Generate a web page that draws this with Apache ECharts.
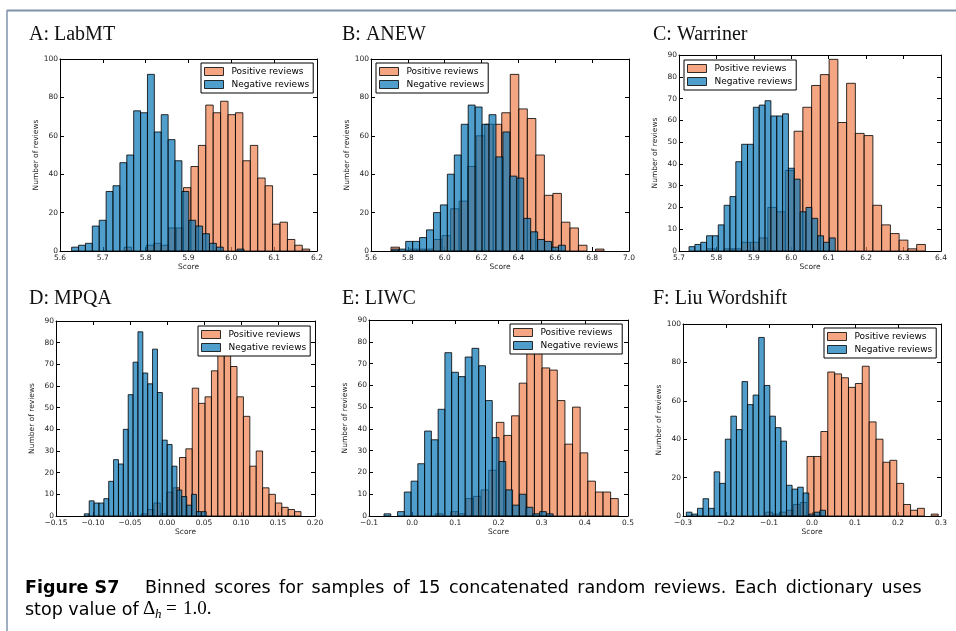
<!DOCTYPE html>
<html><head><meta charset="utf-8">
<script src="https://cdn.jsdelivr.net/npm/echarts@6/dist/echarts.min.js"></script>
<style>html,body{margin:0;padding:0;background:#fff}#c{width:956px;height:631px}</style>
</head><body><div id="c"></div>
<script>
// ---------------- DATA ----------------
const panelTitles = ['A: LabMT', 'B: ANEW', 'C: Warriner', 'D: MPQA', 'E: LIWC', 'F: Liu Wordshift'];
const seriesNames = ['Positive reviews', 'Negative reviews'];
const xLabelName = 'Score';
const yLabelName = 'Number of reviews';

// axis ranges / tick steps
const xMins = [5.6, 5.6, 5.7, -0.15, -0.1, -0.3];
const xMaxs = [6.2, 7.0, 6.4, 0.20, 0.5, 0.3];
const xSteps = [0.1, 0.2, 0.1, 0.05, 0.1, 0.1];
const xDecimals = [1, 1, 1, 2, 1, 1];
const yMaxs = [100, 100, 90, 90, 90, 100];
const ySteps = [20, 20, 10, 10, 10, 20];

// histogram bins: first bin edge, bin width, counts
const labmtPosStart = 5.7497, labmtPosWidth = 0.01733;
const labmtPos = [2, 0, 0, 3, 4, 3, 12, 12, 33, 44, 55, 76, 72, 78, 71, 72, 47, 55, 38, 34, 14, 15, 6, 3, 1];
const labmtNegStart = 5.6272, labmtNegWidth = 0.01609;
const labmtNeg = [2, 3, 4, 13, 16, 31, 34, 46, 50, 73, 72, 92, 62, 71, 58, 47, 31, 16, 13, 9, 4, 2, 0, 0, 1];

const anewPosStart = 5.7084, anewPosWidth = 0.04624;
const anewPos = [2, 0, 1, 1, 1, 6, 8, 22, 26, 44, 60, 66, 66, 72, 92, 74, 69, 50, 29, 30, 15, 12, 3, 0, 1];
const anewNegStart = 5.7129, anewNegWidth = 0.03768;
const anewNeg = [1, 1, 5, 5, 7, 11, 20, 24, 40, 50, 66, 76, 75, 66, 71, 49, 62, 39, 38, 17, 10, 6, 5, 2, 3];

const warrPosStart = 5.7736, warrPosWidth = 0.02339;
const warrPos = [1, 0, 1, 1, 4, 4, 6, 20, 18, 37, 55, 66, 76, 81, 88, 59, 77, 54, 53, 21, 12, 8, 5, 1, 3];
const warrNegStart = 5.7268, warrNegWidth = 0.015625;
const warrNeg = [2, 3, 4, 7, 7, 12, 21, 25, 41, 49, 49, 66, 67, 69, 62, 62, 63, 38, 33, 18, 20, 15, 7, 4, 6];

const mpqaPosStart = -0.035, mpqaPosWidth = 0.008642;
const mpqaPos = [1, 3, 6, 1, 11, 13, 27, 31, 59, 52, 55, 67, 76, 78, 69, 55, 46, 23, 30, 13, 10, 6, 4, 3, 2];
const mpqaNegStart = -0.1117, mpqaNegWidth = 0.006586;
const mpqaNeg = [1, 7, 6, 6, 8, 16, 26, 24, 40, 56, 71, 85, 66, 61, 77, 57, 35, 33, 23, 12, 9, 5, 10, 2, 2];

const liwcPosStart = 0.05367, liwcPosWidth = 0.01766;
const liwcPos = [1, 0, 2, 1, 8, 9, 12, 21, 43, 37, 46, 61, 78, 80, 68, 67, 53, 33, 50, 29, 16, 11, 11, 8];
const liwcNegStart = -0.06525, liwcNegWidth = 0.015676;
const liwcNeg = [1, 0, 2, 11, 16, 24, 39, 35, 49, 75, 66, 64, 73, 77, 69, 53, 36, 25, 12, 5, 10, 4, 1, 2, 1];

const liuPosStart = -0.10775, liuPosWidth = 0.016047;
const liuPos = [2, 1, 2, 3, 6, 7, 31, 31, 44, 75, 74, 72, 67, 69, 78, 49, 40, 28, 29, 17, 6, 3, 4, 0, 1];
const liuNegStart = -0.29225, liuNegWidth = 0.012946;
const liuNeg = [2, 1, 4, 9, 4, 23, 17, 40, 52, 45, 70, 58, 63, 93, 68, 52, 46, 39, 16, 14, 15, 12, 1, 2, 3];

const captionBold = 'Figure S7';
const captionLine1 = 'Binned scores for samples of 15 concatenated random reviews. Each dictionary uses';
const captionLine2 = 'stop value of';
const captionDelta = '\u0394';
const captionSub = 'h';
const captionEq = '=';
const captionValue = '1.0.';

// ---------------- LAYOUT / STYLE ----------------
const panelBins = [
  [[labmtPosStart, labmtPosWidth, labmtPos], [labmtNegStart, labmtNegWidth, labmtNeg]],
  [[anewPosStart, anewPosWidth, anewPos], [anewNegStart, anewNegWidth, anewNeg]],
  [[warrPosStart, warrPosWidth, warrPos], [warrNegStart, warrNegWidth, warrNeg]],
  [[mpqaPosStart, mpqaPosWidth, mpqaPos], [mpqaNegStart, mpqaNegWidth, mpqaNeg]],
  [[liwcPosStart, liwcPosWidth, liwcPos], [liwcNegStart, liwcNegWidth, liwcNeg]],
  [[liuPosStart, liuPosWidth, liuPos], [liuNegStart, liuNegWidth, liuNeg]]
];
const grids = [
  {left: 60, top: 59, width: 257, height: 192},
  {left: 371, top: 59, width: 258, height: 192},
  {left: 679, top: 55, width: 262, height: 196},
  {left: 56, top: 321, width: 259, height: 195},
  {left: 369, top: 320, width: 259, height: 196},
  {left: 683, top: 324, width: 258, height: 192}
];
const legendPos = [[201, 63], [376, 63], [684, 60], [198, 326], [510, 324], [824, 328]];
const titlePos = [[29, 35], [342, 35], [653, 35], [29, 298.5], [342, 298.5], [653, 298.5]];
const fills = ['rgba(239,128,79,0.7)', 'rgba(5,117,181,0.7)'];
const edge = 'rgba(0,0,0,0.8)';
const tickFont = 'DejaVu Sans';

function fmt(v, d) {
  let s = Number(v).toFixed(d);
  if (Math.abs(v) < 1e-9) s = (0).toFixed(d);
  return s.replace('-', '\u2212');
}

function renderBins(fill) {
  return function (params, api) {
    const c = api.value(2);
    if (!c) return null;
    const a = api.coord([api.value(0), c]);
    const b = api.coord([api.value(1), 0]);
    return {
      type: 'rect',
      shape: {x: a[0], y: a[1], width: b[0] - a[0], height: b[1] - a[1]},
      style: {fill: fill, stroke: edge, lineWidth: 1}
    };
  };
}

const xAxis = [], yAxis = [], series = [], legend = [], graphic = [];
grids.forEach((g, i) => {
  const lblStyle = {fontFamily: tickFont, fontSize: 7.5, color: '#222'};
  const line = {show: true, onZero: false, lineStyle: {color: '#000', width: 1}};
  const tick = {show: true, inside: true, length: 4, lineStyle: {color: '#000', width: 1}};
  xAxis.push({
    gridIndex: i, type: 'value', position: 'bottom', min: xMins[i], max: xMaxs[i], interval: xSteps[i],
    axisLine: line, axisTick: tick, splitLine: {show: false},
    axisLabel: Object.assign({margin: 3, formatter: v => fmt(v, xDecimals[i])}, lblStyle),
    name: xLabelName, nameLocation: 'middle', nameGap: 12,
    nameTextStyle: {fontFamily: tickFont, fontSize: 7.5, color: '#222'}
  });
  xAxis.push({
    gridIndex: i, type: 'value', position: 'top', min: xMins[i], max: xMaxs[i], interval: xSteps[i],
    axisLine: line, axisTick: tick, splitLine: {show: false}, axisLabel: {show: false}
  });
  yAxis.push({
    gridIndex: i, type: 'value', position: 'left', min: 0, max: yMaxs[i], interval: ySteps[i],
    axisLine: line, axisTick: tick, splitLine: {show: false},
    axisLabel: Object.assign({margin: 2}, lblStyle),
    name: yLabelName, nameLocation: 'middle', nameGap: 20, nameRotate: 90,
    nameTextStyle: {fontFamily: tickFont, fontSize: 7.5, color: '#222'}
  });
  yAxis.push({
    gridIndex: i, type: 'value', position: 'right', min: 0, max: yMaxs[i], interval: ySteps[i],
    axisLine: line, axisTick: tick, splitLine: {show: false}, axisLabel: {show: false}
  });
  panelBins[i].forEach((bins, k) => {
    const [start, width, counts] = bins;
    const data = counts.map((c, j) => [start + j * width, start + (j + 1) * width, c]);
    series.push({
      type: 'custom', name: seriesNames[k], xAxisIndex: 2 * i, yAxisIndex: 2 * i,
      itemStyle: {color: fills[k], borderColor: edge, borderWidth: 1},
      encode: {x: [0, 1], y: 2}, data: data, renderItem: renderBins(fills[k]),
      silent: true, animation: false, z: 2 + k
    });
  });
  legend.push({
    orient: 'vertical', left: legendPos[i][0], top: legendPos[i][1],
    itemWidth: 19, itemHeight: 8, itemGap: 4, padding: [4, 4, 4, 3],
    backgroundColor: '#fff', borderColor: '#000', borderWidth: 1,
    icon: 'rect', selectedMode: false,
    itemStyle: {borderColor: edge, borderWidth: 1},
    textStyle: {fontFamily: tickFont, fontSize: 9, color: '#000', padding: [0, 0, 0, 3]},
    data: seriesNames
  });
  graphic.push({
    type: 'text', x: titlePos[i][0], y: titlePos[i][1],
    style: {text: panelTitles[i], font: '20px "Liberation Serif"', fill: '#111', verticalAlign: 'middle'}
  });
});

// page frame
graphic.push({type: 'line', shape: {x1: 7, y1: 10.5, x2: 956, y2: 10.5}, style: {stroke: '#7f93ad', lineWidth: 2}});
graphic.push({type: 'line', shape: {x1: 7, y1: 10, x2: 7, y2: 631}, style: {stroke: '#7f93ad', lineWidth: 1.5}});
// caption (justified first line: widened word spaces)
const capFont = '17.5px "DejaVu Sans"';
graphic.push({type: 'text', x: 25, y: 588, style: {text: captionBold, font: 'bold 17.5px "DejaVu Sans"', fill: '#000', verticalAlign: 'middle'}});
graphic.push({type: 'text', x: 145, y: 588, style: {text: captionLine1.split(' ').join(' \u2006'), font: capFont, fill: '#000', verticalAlign: 'middle'}});
graphic.push({type: 'text', x: 25, y: 610, style: {text: captionLine2, font: capFont, fill: '#000', verticalAlign: 'middle'}});
graphic.push({type: 'text', x: 143, y: 609, style: {text: captionDelta, font: '19px "Liberation Serif"', fill: '#000', verticalAlign: 'middle'}});
graphic.push({type: 'text', x: 155, y: 615, style: {text: captionSub, font: 'italic 13px "Liberation Serif"', fill: '#000', verticalAlign: 'middle'}});
graphic.push({type: 'text', x: 166, y: 609, style: {text: captionEq, font: '19px "Liberation Serif"', fill: '#000', verticalAlign: 'middle'}});
graphic.push({type: 'text', x: 183, y: 609, style: {text: captionValue, font: '19px "Liberation Serif"', fill: '#000', verticalAlign: 'middle'}});

const chart = echarts.init(document.getElementById('c'), null, {renderer: 'canvas'});
chart.setOption({
  backgroundColor: '#fff', animation: false,
  grid: grids, xAxis: xAxis, yAxis: yAxis, series: series, legend: legend, graphic: graphic
});
</script></body></html>
